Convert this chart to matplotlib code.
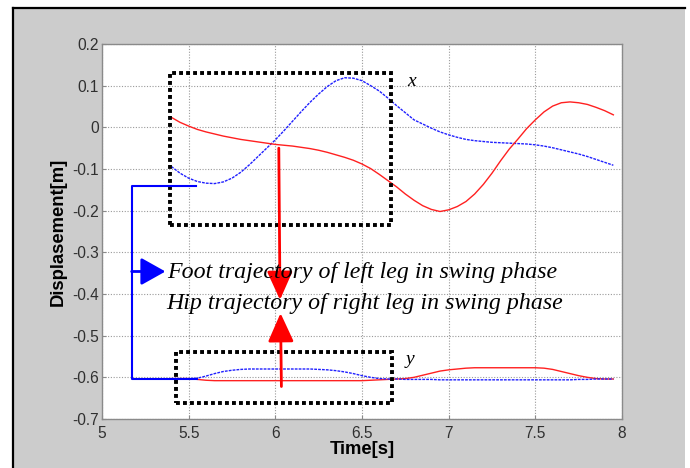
import numpy as np
import matplotlib.pyplot as plt
from matplotlib.patches import Rectangle
from matplotlib.lines import Line2D

# time samples [s]
t = [5.40, 5.45, 5.50, 5.55, 5.60, 5.65, 5.70, 5.75, 5.80, 5.85,
     5.90, 5.95, 6.00, 6.05, 6.10, 6.15, 6.20, 6.25, 6.30, 6.35,
     6.40, 6.45, 6.50, 6.55, 6.60, 6.65, 6.70, 6.75, 6.80, 6.85,
     6.90, 6.95, 7.00, 7.05, 7.10, 7.15, 7.20, 7.25, 7.30, 7.35,
     7.40, 7.45, 7.50, 7.55, 7.60, 7.65, 7.70, 7.75, 7.80, 7.85,
     7.90, 7.95]

# foot of left leg (blue), x direction
foot_x = [-0.094, -0.110, -0.122, -0.130, -0.134, -0.135, -0.131, -0.122, -0.108, -0.090,
          -0.070, -0.050, -0.030, -0.008, 0.015, 0.038, 0.060, 0.080, 0.098, 0.112,
          0.119, 0.118, 0.112, 0.100, 0.087, 0.070, 0.052, 0.035, 0.018, 0.008,
          -0.002, -0.011, -0.018, -0.024, -0.029, -0.032, -0.034, -0.036, -0.037, -0.038,
          -0.039, -0.040, -0.042, -0.045, -0.049, -0.054, -0.059, -0.064, -0.070, -0.077,
          -0.084, -0.091]

# hip of right leg (red), x direction
hip_x = [0.024, 0.012, 0.003, -0.005, -0.011, -0.016, -0.021, -0.025, -0.029, -0.032,
         -0.035, -0.038, -0.041, -0.043, -0.045, -0.048, -0.051, -0.055, -0.060, -0.066,
         -0.072, -0.079, -0.088, -0.099, -0.113, -0.128, -0.143, -0.160, -0.175, -0.188,
         -0.197, -0.202, -0.198, -0.190, -0.178, -0.160, -0.137, -0.110, -0.080, -0.052,
         -0.028, -0.003, 0.018, 0.037, 0.051, 0.059, 0.061, 0.059, 0.055, 0.048,
         0.040, 0.030]

# y direction
foot_y = [-0.603, -0.603, -0.603, -0.602, -0.597, -0.591, -0.586, -0.583, -0.581, -0.580,
          -0.580, -0.580, -0.580, -0.580, -0.580, -0.580, -0.580, -0.581, -0.582, -0.584,
          -0.587, -0.591, -0.596, -0.600, -0.603, -0.604, -0.604, -0.605, -0.605, -0.605,
          -0.605, -0.606, -0.606, -0.606, -0.606, -0.606, -0.606, -0.606, -0.606, -0.606,
          -0.606, -0.606, -0.606, -0.606, -0.606, -0.606, -0.606, -0.605, -0.605, -0.604,
          -0.604, -0.604]

hip_y = [-0.603, -0.603, -0.603, -0.605, -0.607, -0.608, -0.608, -0.608, -0.608, -0.608,
         -0.608, -0.608, -0.608, -0.608, -0.608, -0.608, -0.608, -0.608, -0.608, -0.608,
         -0.608, -0.608, -0.608, -0.607, -0.606, -0.605, -0.604, -0.603, -0.600, -0.595,
         -0.590, -0.585, -0.582, -0.580, -0.578, -0.577, -0.577, -0.577, -0.577, -0.577,
         -0.577, -0.577, -0.577, -0.578, -0.581, -0.586, -0.591, -0.596, -0.600, -0.603,
         -0.604, -0.604]

xticks = [5, 5.5, 6, 6.5, 7, 7.5, 8]
xtick_labels = ["5", "5.5", "6", "6.5", "7", "7.5", "8"]
yticks = [0.2, 0.1, 0, -0.1, -0.2, -0.3, -0.4, -0.5, -0.6, -0.7]
ytick_labels = ["0.2", "0.1", "0", "-0.1", "-0.2", "-0.3", "-0.4", "-0.5", "-0.6", "-0.7"]

# annotation boxes (data coords)
box_x = (5.39, -0.235, 6.67 - 5.39, 0.13 + 0.235)
box_y = (5.427, -0.662, 6.672 - 5.427, 0.124)

fig = plt.figure(figsize=(6.9, 4.68), dpi=100, facecolor="white")

# grey window panel with dark top/left edge
fig.patches.append(Rectangle((12.5 / 690, 0), (685 - 12.5) / 690, (468 - 8) / 468,
                             transform=fig.transFigure, facecolor="#cccccc",
                             edgecolor="none", zorder=-5))
fig.lines.append(Line2D([12.5 / 690, 12.5 / 690], [0, (468 - 8) / 468],
                        transform=fig.transFigure, color="black", lw=1.6, zorder=-4))
fig.lines.append(Line2D([12.5 / 690, 685 / 690], [(468 - 8) / 468, (468 - 8) / 468],
                        transform=fig.transFigure, color="black", lw=1.6, zorder=-4))

ax = fig.add_axes([102 / 690, (468 - 419) / 468, (622 - 102) / 690, (419 - 44) / 468])
ax.set_facecolor("white")

ax.plot(t, foot_x, color="#2020ff", lw=1.0, ls=(0, (2, 0.8)))
ax.plot(t, hip_x, color="#ff2020", lw=1.0)
ax.plot(t, foot_y, color="#2020ff", lw=1.0, ls=(0, (2, 0.8)), zorder=3)
ax.plot(t, hip_y, color="#ff2020", lw=1.0, zorder=2)

ax.set_xlim(5, 8)
ax.set_ylim(-0.7, 0.2)
ax.set_xticks(xticks)
ax.set_xticklabels(xtick_labels)
ax.set_yticks(yticks)
ax.set_yticklabels(ytick_labels)
ax.grid(True, color="#9a9a9a", ls=(0, (1, 1.5)), lw=0.8)
for s in ax.spines.values():
    s.set_color("#8a8a8a")
    s.set_linewidth(1.0)
ax.tick_params(direction="in", length=3, color="#8a8a8a", labelsize=11.2,
               labelcolor="#303030", pad=5)
ax.tick_params(axis="y", pad=2)
for lab in ax.get_xticklabels() + ax.get_yticklabels():
    lab.set_fontfamily("Liberation Sans")

ax.set_xlabel("Time[s]", fontsize=13.3, fontweight="bold", family="Liberation Sans",
              labelpad=0)
ax.set_ylabel("Displasement[m]", fontsize=13.3, fontweight="bold",
              family="Liberation Sans", labelpad=4)

# dotted boxes around x and y traces
for bx in (box_x, box_y):
    ax.add_patch(Rectangle(bx[:2], bx[2], bx[3], fill=False, edgecolor="black",
                           lw=2.8, ls=(0, (1, 0.8)), zorder=4))
ax.text(6.76, 0.11, "x", fontsize=14, style="italic", family="Liberation Serif",
        va="center", ha="left")
ax.text(6.75, -0.557, "y", fontsize=14, style="italic", family="Liberation Serif",
        va="center", ha="left")

# blue bracket and arrow
ax.plot([5.542, 5.171, 5.171, 5.55], [-0.141, -0.141, -0.603, -0.603],
        color="#0000ff", lw=1.5, zorder=5)
ax.annotate("", xy=(5.366, -0.346), xytext=(5.171, -0.346),
            arrowprops=dict(arrowstyle="-|>,head_length=0.75,head_width=0.42",
                            color="#0000ff", lw=2, mutation_scale=20,
                            shrinkA=0, shrinkB=0), zorder=5)

# red arrows
ax.annotate("", xy=(6.027, -0.414), xytext=(6.02, -0.05),
            arrowprops=dict(arrowstyle="-|>,head_length=0.8,head_width=0.36",
                            color="#ff0000", lw=2, mutation_scale=22,
                            shrinkA=0, shrinkB=0), zorder=5)
ax.annotate("", xy=(6.03, -0.446), xytext=(6.035, -0.622),
            arrowprops=dict(arrowstyle="-|>,head_length=0.8,head_width=0.36",
                            color="#ff0000", lw=2, mutation_scale=22,
                            shrinkA=0, shrinkB=0), zorder=5)

ax.text(5.373, -0.349, "Foot trajectory of left leg in swing phase", fontsize=17.2,
        style="italic", family="Liberation Serif", va="center", ha="left", zorder=6)
ax.text(5.373, -0.423, "Hip trajectory of right leg in swing phase", fontsize=17.2,
        style="italic", family="Liberation Serif", va="center", ha="left", zorder=6)

fig.savefig("out.png", dpi=100, facecolor=fig.get_facecolor())
